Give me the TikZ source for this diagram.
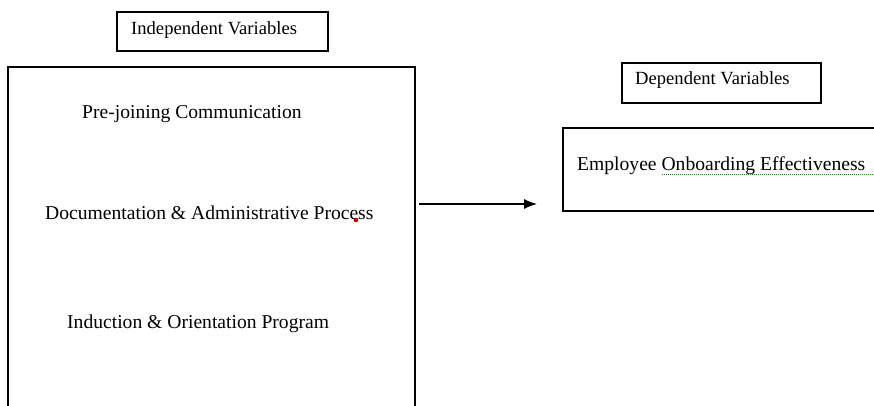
\documentclass[tikz,border=0pt]{standalone}
\usepackage{fontspec}
\setmainfont{Liberation Serif}
\usetikzlibrary{arrows.meta}
\usetikzlibrary{positioning}

\tikzset{
  frame/.style={draw=black,line width=1.3pt},
  label/.style={font=\fontsize{19.6}{21}\selectfont,anchor=base west,inner sep=0pt},
  title/.style={label,font=\fontsize{18.6}{20}\selectfont}
}

\begin{document}
\begin{tikzpicture}[x=1pt,y=-1pt]
\useasboundingbox (0,0) rectangle (874,406);
\clip (0,0) rectangle (874,406);

% titles over the two sides
\draw[frame] (117,12) rectangle (328,51);
\node[title] (indtitle) at (131,35) {Independent Variables};
\draw[frame] (622,63) rectangle (821,103);
\node[title] (deptitle) at (635,85) {Dependent Variables};

% left box, runs off the bottom
\draw[frame] (8,67) rectangle (415,440);
\node[label] (prejoin) at (82,119) {Pre-joining Communication};
\node[label] (docadmin) at (45,219) {Documentation \& Administrative Process};
\node[label] (induct) at (67,328) {Induction \& Orientation Program};
\fill[red!80!black] (356,220) circle (2.3);

% right box, runs off the right side
\draw[frame] (563,128) rectangle (900,211);
\node[label] (onboard) at (577,170) {Employee Onboarding Effectiveness};
\draw[green!60!black,dash pattern=on 1pt off 1pt,line width=1pt] (662,174) -- (874,174);

% arrow between the boxes
\coordinate (arrowtail) at (419,204);
\coordinate (arrowhead) at (537,204);
\draw[line width=1.2pt,-{Latex[length=13pt,width=10pt]}] (arrowtail) -- (arrowhead);

\end{tikzpicture}
\end{document}
